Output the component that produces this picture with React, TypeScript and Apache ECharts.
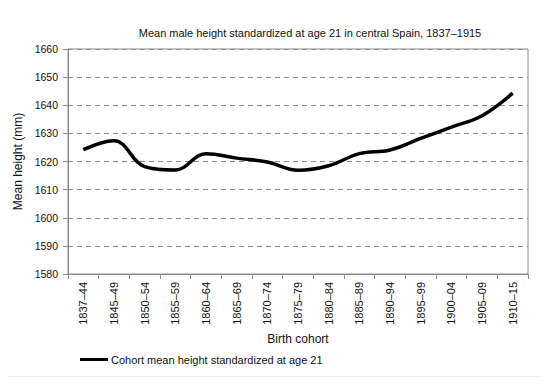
import React, { useEffect, useRef } from "react";
import * as echarts from "echarts";

const categories = [
  "1837–44", "1845–49", "1850–54", "1855–59", "1860–64", "1865–69", "1870–74",
  "1875–79", "1880–84", "1885–89", "1890–94", "1895–99", "1900–04", "1905–09", "1910–15",
];
const heights = [
  1624.2, 1627.4, 1618.2, 1617.0, 1622.8, 1621.2, 1619.8,
  1616.9, 1618.5, 1622.8, 1624.1, 1628.2, 1632.2, 1636.3, 1644.3,
];
const seriesName = "Cohort mean height standardized at age 21";
const titleText = "Mean male height standardized at age 21 in central Spain, 1837–1915";

const FONT = "'Liberation Sans', Arial, sans-serif";

export default function App() {
  const ref = useRef<HTMLDivElement>(null);
  useEffect(() => {
    if (!ref.current) return;
    const chart = echarts.init(ref.current, null, { renderer: "svg" });
    chart.setOption({
      animation: false,
      backgroundColor: "#fff",
      textStyle: { fontFamily: FONT },
      title: {
        text: titleText,
        left: 305,
        top: 22,
        textAlign: "center",
        textStyle: { fontSize: 11, fontWeight: "normal", color: "#111", fontFamily: FONT },
      },
      graphic: {
        elements: [
          {
            type: "rect",
            shape: { x: 4.5, y: 6.5, width: 539, height: 371 },
            style: { fill: "transparent", stroke: "#c4c4c4", lineWidth: 1.5 },
            silent: true,
            z: 100,
          },
        ],
      },
      legend: {
        data: [{ name: seriesName, icon: "rect" }],
        top: 349,
        left: 75,
        itemWidth: 28,
        itemHeight: 3,
        itemGap: 4,
        textStyle: { fontSize: 11, color: "#111", fontFamily: FONT, padding: [0, 0, 0, -2] },
      },
      grid: { left: 68, right: 22, top: 49, bottom: 111, show: true, borderColor: "#8c8c8c", borderWidth: 1 },
      xAxis: {
        type: "category",
        data: categories,
        boundaryGap: true,
        name: "Birth cohort",
        nameLocation: "middle",
        nameGap: 58,
        nameTextStyle: { fontSize: 12, color: "#111", fontFamily: FONT },
        axisLine: { lineStyle: { color: "#8c8c8c" } },
        axisTick: { show: true, length: 5, lineStyle: { color: "#8c8c8c" } },
        axisLabel: { rotate: 90, fontSize: 11, color: "#111", margin: 8, interval: 0, fontFamily: FONT },
      },
      yAxis: {
        type: "value",
        min: 1580,
        max: 1660,
        interval: 10,
        name: "Mean height (mm)",
        nameLocation: "middle",
        nameGap: 41,
        nameTextStyle: { fontSize: 12, color: "#111", fontFamily: FONT },
        axisLine: { show: true, lineStyle: { color: "#8c8c8c" } },
        axisTick: { show: true, length: 5, lineStyle: { color: "#8c8c8c" } },
        axisLabel: { fontSize: 10.5, color: "#111", margin: 10, fontFamily: FONT, formatter: (v: number) => String(v) },
        splitLine: { show: true, lineStyle: { color: "#8c8c8c", type: [5, 4], width: 1 } },
      },
      series: [
        {
          type: "line",
          name: seriesName,
          data: heights,
          smooth: 0.4,
          symbol: "none",
          lineStyle: { color: "#000", width: 3.5 },
          itemStyle: { color: "#000" },
        },
      ],
    });
    return () => chart.dispose();
  }, []);
  return <div ref={ref} style={{ width: 550, height: 385, margin: -8 }} />;
}
